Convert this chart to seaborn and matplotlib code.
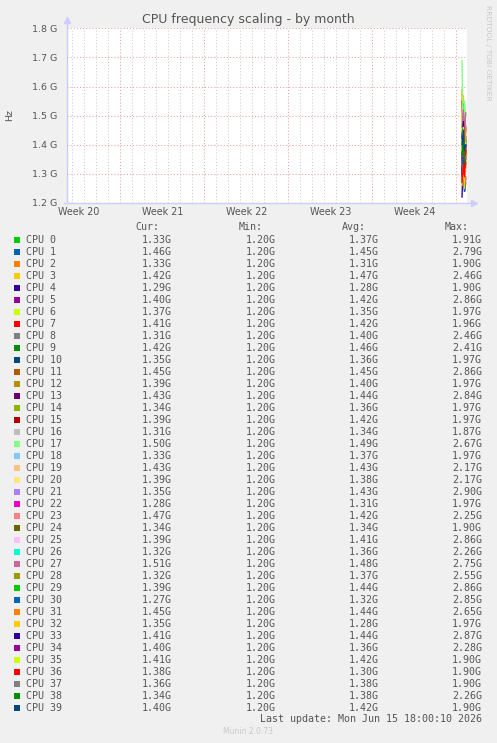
import matplotlib
matplotlib.use("Agg")
import matplotlib.pyplot as plt
from matplotlib.patches import Rectangle
import pandas as pd
import seaborn as sns

W, H = 497, 743

# munin default colour cycle (repeats after 29 entries)
munin_colors = ["#00CC00", "#0066B3", "#FF8000", "#FFCC00", "#330099", "#990099",
                "#CCFF00", "#FF0000", "#808080", "#008F00", "#00487D", "#B35A00",
                "#B38F00", "#6B006B", "#8FB300", "#B30000", "#BEBEBE", "#80FF80",
                "#80C9FF", "#FFC080", "#FFE680", "#AA80FF", "#EE00CC", "#FF8080",
                "#666600", "#FFBFFF", "#00FFCC", "#CC6699", "#999900"]

cpus = [f"CPU {i}" for i in range(40)]

# legend table values (GHz)
cur = [1.33, 1.46, 1.33, 1.42, 1.29, 1.40, 1.37, 1.41, 1.31, 1.42,
       1.35, 1.45, 1.39, 1.43, 1.34, 1.39, 1.31, 1.50, 1.33, 1.43,
       1.39, 1.35, 1.28, 1.47, 1.34, 1.39, 1.32, 1.51, 1.32, 1.39,
       1.27, 1.45, 1.35, 1.41, 1.40, 1.41, 1.38, 1.36, 1.34, 1.40]
vmin = [1.20] * 40
avg = [1.37, 1.45, 1.31, 1.47, 1.28, 1.42, 1.35, 1.42, 1.40, 1.46,
       1.36, 1.45, 1.40, 1.44, 1.36, 1.42, 1.34, 1.49, 1.37, 1.43,
       1.38, 1.43, 1.31, 1.42, 1.34, 1.41, 1.36, 1.48, 1.37, 1.44,
       1.32, 1.44, 1.28, 1.44, 1.36, 1.42, 1.30, 1.38, 1.38, 1.42]
vmax = [1.91, 2.79, 1.90, 2.46, 1.90, 2.86, 1.97, 1.96, 2.46, 2.41,
        1.97, 2.86, 1.97, 2.84, 1.97, 1.97, 1.87, 2.67, 1.97, 2.17,
        2.17, 2.90, 1.97, 2.25, 1.90, 2.86, 2.26, 2.75, 2.55, 2.86,
        2.85, 2.65, 1.97, 2.87, 2.28, 1.90, 1.90, 1.90, 2.26, 1.90]

# samples on the last day (days since Monday of week 20); last sample = cur
sample_days = [35.47, 35.58, 35.68, 35.78]
freq_t1 = [1.36, 1.40, 1.59, 1.30, 1.22, 1.30, 1.50, 1.28, 1.35, 1.38,
           1.33, 1.55, 1.35, 1.31, 1.37, 1.29, 1.33, 1.69, 1.36, 1.40,
           1.38, 1.42, 1.30, 1.40, 1.32, 1.40, 1.35, 1.46, 1.36, 1.42,
           1.30, 1.42, 1.26, 1.42, 1.35, 1.40, 1.27, 1.36, 1.36, 1.40]
freq_t2 = [1.42, 1.52, 1.28, 1.57, 1.36, 1.45, 1.34, 1.32, 1.50, 1.54,
           1.48, 1.40, 1.44, 1.48, 1.42, 1.45, 1.38, 1.40, 1.41, 1.47,
           1.43, 1.47, 1.34, 1.46, 1.38, 1.44, 1.40, 1.52, 1.41, 1.47,
           1.36, 1.48, 1.33, 1.48, 1.40, 1.46, 1.33, 1.41, 1.42, 1.45]
freq_t3 = [1.30, 1.38, 1.52, 1.25, 1.24, 1.33, 1.45, 1.26, 1.30, 1.35,
           1.38, 1.50, 1.27, 1.35, 1.30, 1.28, 1.30, 1.55, 1.34, 1.32,
           1.35, 1.36, 1.28, 1.38, 1.30, 1.37, 1.33, 1.44, 1.33, 1.40,
           1.24, 1.40, 1.25, 1.40, 1.32, 1.38, 1.29, 1.35, 1.34, 1.38]

week_labels = ["Week 20", "Week 21", "Week 22", "Week 23", "Week 24"]
week_centers = [3.5, 10.5, 17.5, 24.5, 31.5]
week_starts = [7, 14, 21, 28, 35]
y_ticks = [1.2, 1.3, 1.4, 1.5, 1.6, 1.7, 1.8]

TXT = "#555555"
AXC = "#ccccff"
MGRID = "#eca0a0"
GRID = "#cccccc"

rows = []
for i, name in enumerate(cpus):
    for d, v in zip(sample_days, [freq_t1[i], freq_t2[i], freq_t3[i], cur[i]]):
        rows.append({"cpu": name, "day": d, "ghz": v})
df = pd.DataFrame(rows)
palette = {name: munin_colors[i % len(munin_colors)] for i, name in enumerate(cpus)}

sns.set_style("white")
plt.rcParams["font.family"] = ["DejaVu Sans"]

fig = plt.figure(figsize=(W / 100, H / 100), dpi=100, facecolor="#f0f0f0")
ax = fig.add_axes([66.7 / W, 1 - 203 / H, (466.7 - 66.7) / W, (203 - 28.3) / H])
ax.set_facecolor("white")

sns.lineplot(data=df, x="day", y="ghz", hue="cpu", palette=palette, legend=False,
             estimator=None, sort=False, linewidth=1.0, ax=ax)

ax.set_xlim(2.53, 35.86)
ax.set_ylim(1.2, 1.8)
ax.set_xticks(week_starts)
ax.set_xticks(range(3, 36), minor=True)
ax.set_xticklabels([])
ax.set_yticks(y_ticks)
ax.set_yticklabels([f"{v:.1f} G" for v in y_ticks], fontsize=6.8, color=TXT)
ax.tick_params(axis="y", which="major", length=2, color=MGRID, pad=5)
ax.tick_params(axis="x", which="major", length=2, color=MGRID, pad=2)
ax.tick_params(axis="x", which="minor", length=0)
ax.grid(True, which="major", axis="both", color=MGRID, linestyle=(0, (1, 2)), linewidth=0.75)
ax.grid(True, which="minor", axis="x", color=GRID, linestyle=(0, (1, 2)), linewidth=0.75)
ax.set_axisbelow(True)
ax.set_xlabel("")
ax.set_ylabel("")
for s in ax.spines.values():
    s.set_visible(False)

# axis lines with arrow heads
ax.plot([0, 0], [0, 1.03], transform=ax.transAxes, color=AXC, lw=1, clip_on=False)
ax.plot([-0.008, 1.01], [0, 0], transform=ax.transAxes, color=AXC, lw=1, clip_on=False)
ax.plot([0], [1.045], transform=ax.transAxes, marker="^", ms=4, color=AXC, clip_on=False)
ax.plot([1.018], [0], transform=ax.transAxes, marker=">", ms=4, color=AXC, clip_on=False)

for c, lab in zip(week_centers, week_labels):
    ax.text(c, -0.05, lab, transform=ax.get_xaxis_transform(), ha="center", va="center",
            fontsize=6.9, color=TXT)


def fx(px):
    return px / W


def fy(py):
    return 1 - py / H


fig.text(fx(248), fy(19), "CPU frequency scaling - by month", ha="center", va="center",
         fontsize=9, color=TXT)
fig.text(fx(10), fy(115), "Hz", rotation=90, ha="center", va="center", fontsize=6.8, color=TXT)
fig.text(fx(488), fy(5), "RRDTOOL / TOBI OETIKER", rotation=270, ha="center", va="top",
         fontsize=5.4, color="#c8c8c8")

mono = dict(family="DejaVu Sans Mono", fontsize=7.2, color=TXT, va="center")
for lab, xr in zip(["Cur:", "Min:", "Avg:", "Max:"], [159, 263, 366, 469]):
    fig.text(fx(xr), fy(227), lab, ha="right", **mono)

for i, name in enumerate(cpus):
    y = 240 + 12 * i
    fig.patches.append(Rectangle((fx(14), fy(y + 3)), 6 / W, 6 / H, transform=fig.transFigure,
                                 facecolor=palette[name], edgecolor="none", figure=fig))
    fig.text(fx(26), fy(y), name, ha="left", **mono)
    for v, xr in zip([cur[i], vmin[i], avg[i], vmax[i]], [172, 276, 379, 482]):
        fig.text(fx(xr), fy(y), f"{v:.2f}G", ha="right", **mono)

fig.text(fx(482), fy(719), "Last update: Mon Jun 15 18:00:10 2026", ha="right", **mono)
fig.text(fx(248), fy(732), "Munin 2.0.73", ha="center", va="center", fontsize=5.5, color="#c8c8c8")

fig.savefig("out.png", dpi=100, facecolor=fig.get_facecolor())
